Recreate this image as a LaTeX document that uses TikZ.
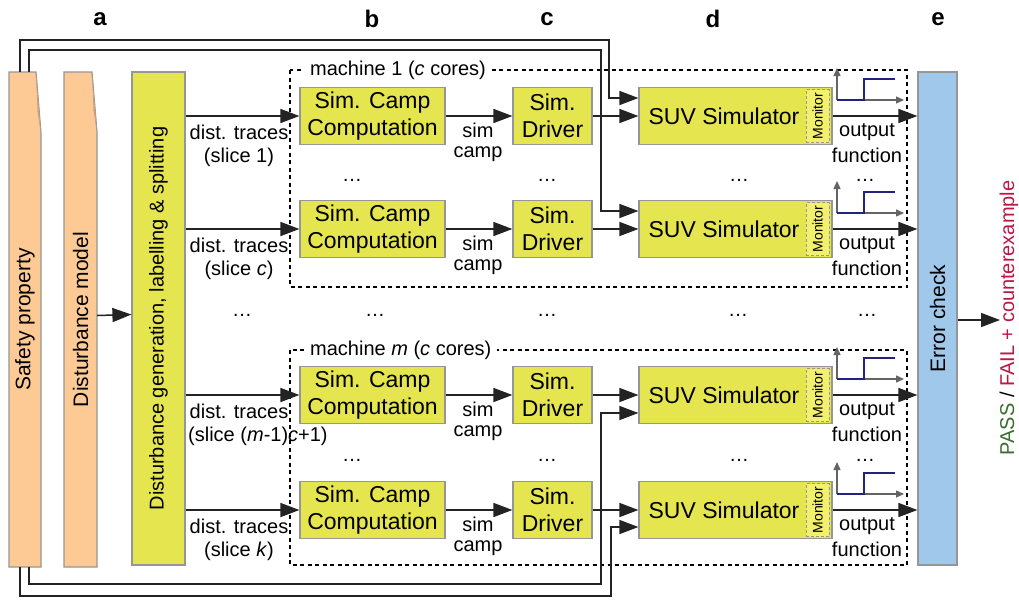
\documentclass[tikz,border=0pt]{standalone}
\usepackage{fontspec}
\setmainfont{Liberation Sans}
\usetikzlibrary{arrows.meta,calc}
\definecolor{lc}{RGB}{35,35,35}
\definecolor{bc}{RGB}{150,150,150}
\definecolor{orng}{RGB}{253,202,150}
\definecolor{yel}{RGB}{229,229,80}
\definecolor{monyel}{RGB}{243,240,110}
\definecolor{blu}{RGB}{160,200,235}
\definecolor{stepblue}{RGB}{35,35,125}
\definecolor{axgray}{RGB}{100,100,100}
\definecolor{passg}{RGB}{55,110,45}
\definecolor{failr}{RGB}{190,20,70}
\definecolor{foldc}{RGB}{205,165,125}
\newcommand\fsBig{\fontsize{23}{27}\selectfont}
\newcommand\fsMed{\fontsize{21}{25}\selectfont}
\newcommand\fsSm{\fontsize{20}{23.5}\selectfont}
\begin{document}
\begin{tikzpicture}[x=1pt,y=-1pt,
  wire/.style={draw=lc, line width=1.5pt},
  arr/.style={wire, -{Triangle[length=19pt,width=14pt]}},
  box/.style={draw=bc, line width=1.2pt, inner sep=0pt},
  ybox/.style={box, fill=yel, font=\fsBig, align=center, minimum height=57pt},
  mach/.style={draw=black, line width=1.3pt, dash pattern=on 4pt off 3.5pt},
  lbl/.style={font=\fsSm, inner sep=0pt},
  dotn/.style={font=\fsSm, inner sep=0pt},
  axisarr/.style={draw=axgray, line width=1.3pt, -{Triangle[length=8pt,width=7pt]}},
  stepf/.style={draw=stepblue, line width=1.8pt},
  head/.style={font=\fontsize{24}{28}\selectfont\bfseries, inner sep=0pt}
]
\fill[white] (0,0) rectangle (1019,600);
\useasboundingbox (0,0) rectangle (1019,600);

% column headers
\node[head] (ha) at (100,19) {a};
\node[head] (hb) at (372,19) {b};
\node[head] (hc) at (547,19) {c};
\node[head] (hd) at (713,19) {d};
\node[head] (he) at (938,19) {e};

% safety property (folded sheet)
\filldraw[fill=orng, draw=bc, line width=1.2pt] (9,72) -- (36,72) -- (41,133) -- (41,567) -- (9,567) -- cycle;
\fill[foldc] (36,72) -- (41,133) -- (37.5,112) -- cycle;
\node[inner sep=0pt, minimum width=32pt, minimum height=495pt, font=\fsMed] (sp) at (25,319.5) {\rotatebox{90}{Safety property}};

% disturbance model (folded sheet)
\filldraw[fill=orng, draw=bc, line width=1.2pt] (64,72) -- (92,72) -- (97,132) -- (97,567) -- (64,567) -- cycle;
\fill[foldc] (92,72) -- (97,132) -- (93.5,111) -- cycle;
\node[inner sep=0pt, minimum width=33pt, minimum height=495pt, font=\fsMed] (dm) at (80.5,319.5) {\rotatebox{90}{Disturbance model}};

% disturbance generation
\node[box, fill=yel, minimum width=53pt, minimum height=493pt, font=\fsSm] (gen) at (158.5,318.5) {\rotatebox{90}{Disturbance generation, labelling \& splitting}};

% error check
\node[box, fill=blu, minimum width=39pt, minimum height=493pt, font=\fsMed] (ec) at (937.5,318.5) {\rotatebox{90}{Error check}};

% machines
\draw[mach] (290,70) rectangle (907,287);
\node[anchor=west, fill=white, inner xsep=6pt, inner ysep=1pt, font=\fsSm] (m1) at (304,70) {machine 1 (\textit{c} cores)};
\draw[mach] (290,350) rectangle (907,565);
\node[anchor=west, fill=white, inner xsep=6pt, inner ysep=1pt, font=\fsSm] (mm) at (304,350) {machine \textit{m} (\textit{c} cores)};

% rows
\foreach \i/\y/\s/\anc/\sx in {1/116/{(slice 1)}/center/239, 2/229/{(slice \textit{c})}/center/239, 3/395/{(slice (\textit{m}-1)\textit{c}+1)}/west/188, 4/510/{(slice \textit{k})}/center/239}{
  \node[ybox, minimum width=145pt] (scc\i) at (372.5,\y) {Sim. Camp\\Computation};
  \node[ybox, minimum width=79pt] (drv\i) at (552.5,\y) {Sim.\\Driver};
  \node[box, fill=yel, minimum width=193pt, minimum height=57pt] (suv\i) at (735.5,\y) {};
  \node[font=\fsBig, inner sep=0pt] (suvt\i) at (724,\y) {SUV Simulator};
  \node[draw=bc, line width=0.9pt, dash pattern=on 3pt off 2pt, fill=monyel, minimum width=23pt, minimum height=53pt, inner sep=0pt] (mon\i) at (817.5,\y) {\rotatebox{90}{\fontsize{14}{16}\selectfont Monitor}};
  \draw[arr] (gen.east |- scc\i.west) -- (scc\i.west);
  \draw[arr] (scc\i.east) -- (drv\i.west);
  \draw[arr] (drv\i.east) -- (suv\i.west);
  \draw[arr] (suv\i.east) -- (suv\i.east -| ec.west);
  \node[lbl] (dt\i) at (239,\y+16) {dist. traces};
  \node[lbl, anchor=\anc] (sl\i) at (\sx,\y+41) {\s};
  \node[lbl] (sc\i) at (478,\y+14) {sim};
  \node[lbl] (cp\i) at (478,\y+38) {camp};
  \node[lbl] (op\i) at (867,\y+16) {output};
  \node[lbl] (fn\i) at (867,\y+39) {function};
  \coordinate (o\i) at (837,\y-16);
  \draw[axisarr] (o\i) -- (837,\y-48);
  \draw[axisarr] (o\i) -- (904,\y-16);
  \draw[stepf] (o\i) -- (864,\y-16) -- (864,\y-37) -- (895,\y-37);
}

% ellipses
\foreach \x/\y [count=\k] in {352/180, 547/180, 739/180, 865/180, 242/315, 375/315, 547/315, 738/315, 867/315, 352/460, 547/460, 739/460, 865/460}{
  \node[dotn] (dd\k) at (\x,\y) {\ldots};
}

% disturbance model -> generation
\draw[arr] ([yshift=4pt]dm.east) -- ([yshift=4pt]gen.west);

% safety property wires
\draw[arr] ([xshift=-5pt]sp.north) |- (609,40) |- ($(suv1.west)+(0,-18)$);
\draw[arr] ([xshift=4pt]sp.north) |- (601,50) |- ($(suv2.west)+(0,-18)$);
\draw[arr] ([xshift=4pt]sp.south) |- (601,584) |- ($(suv3.west)+(0,18)$);
\draw[arr] ([xshift=-5pt]sp.south) |- (611,596) |- ($(suv4.west)+(0,17)$);

% error check output
\coordinate (res) at (1000,320);
\draw[arr] (ec.east |- res) -- (res);
\node[font=\fsSm, inner sep=0pt, rotate=90] (pf) at (1009,318) {\textcolor{passg}{PASS} / \textcolor{failr}{FAIL + counterexample}};
\end{tikzpicture}
\end{document}
